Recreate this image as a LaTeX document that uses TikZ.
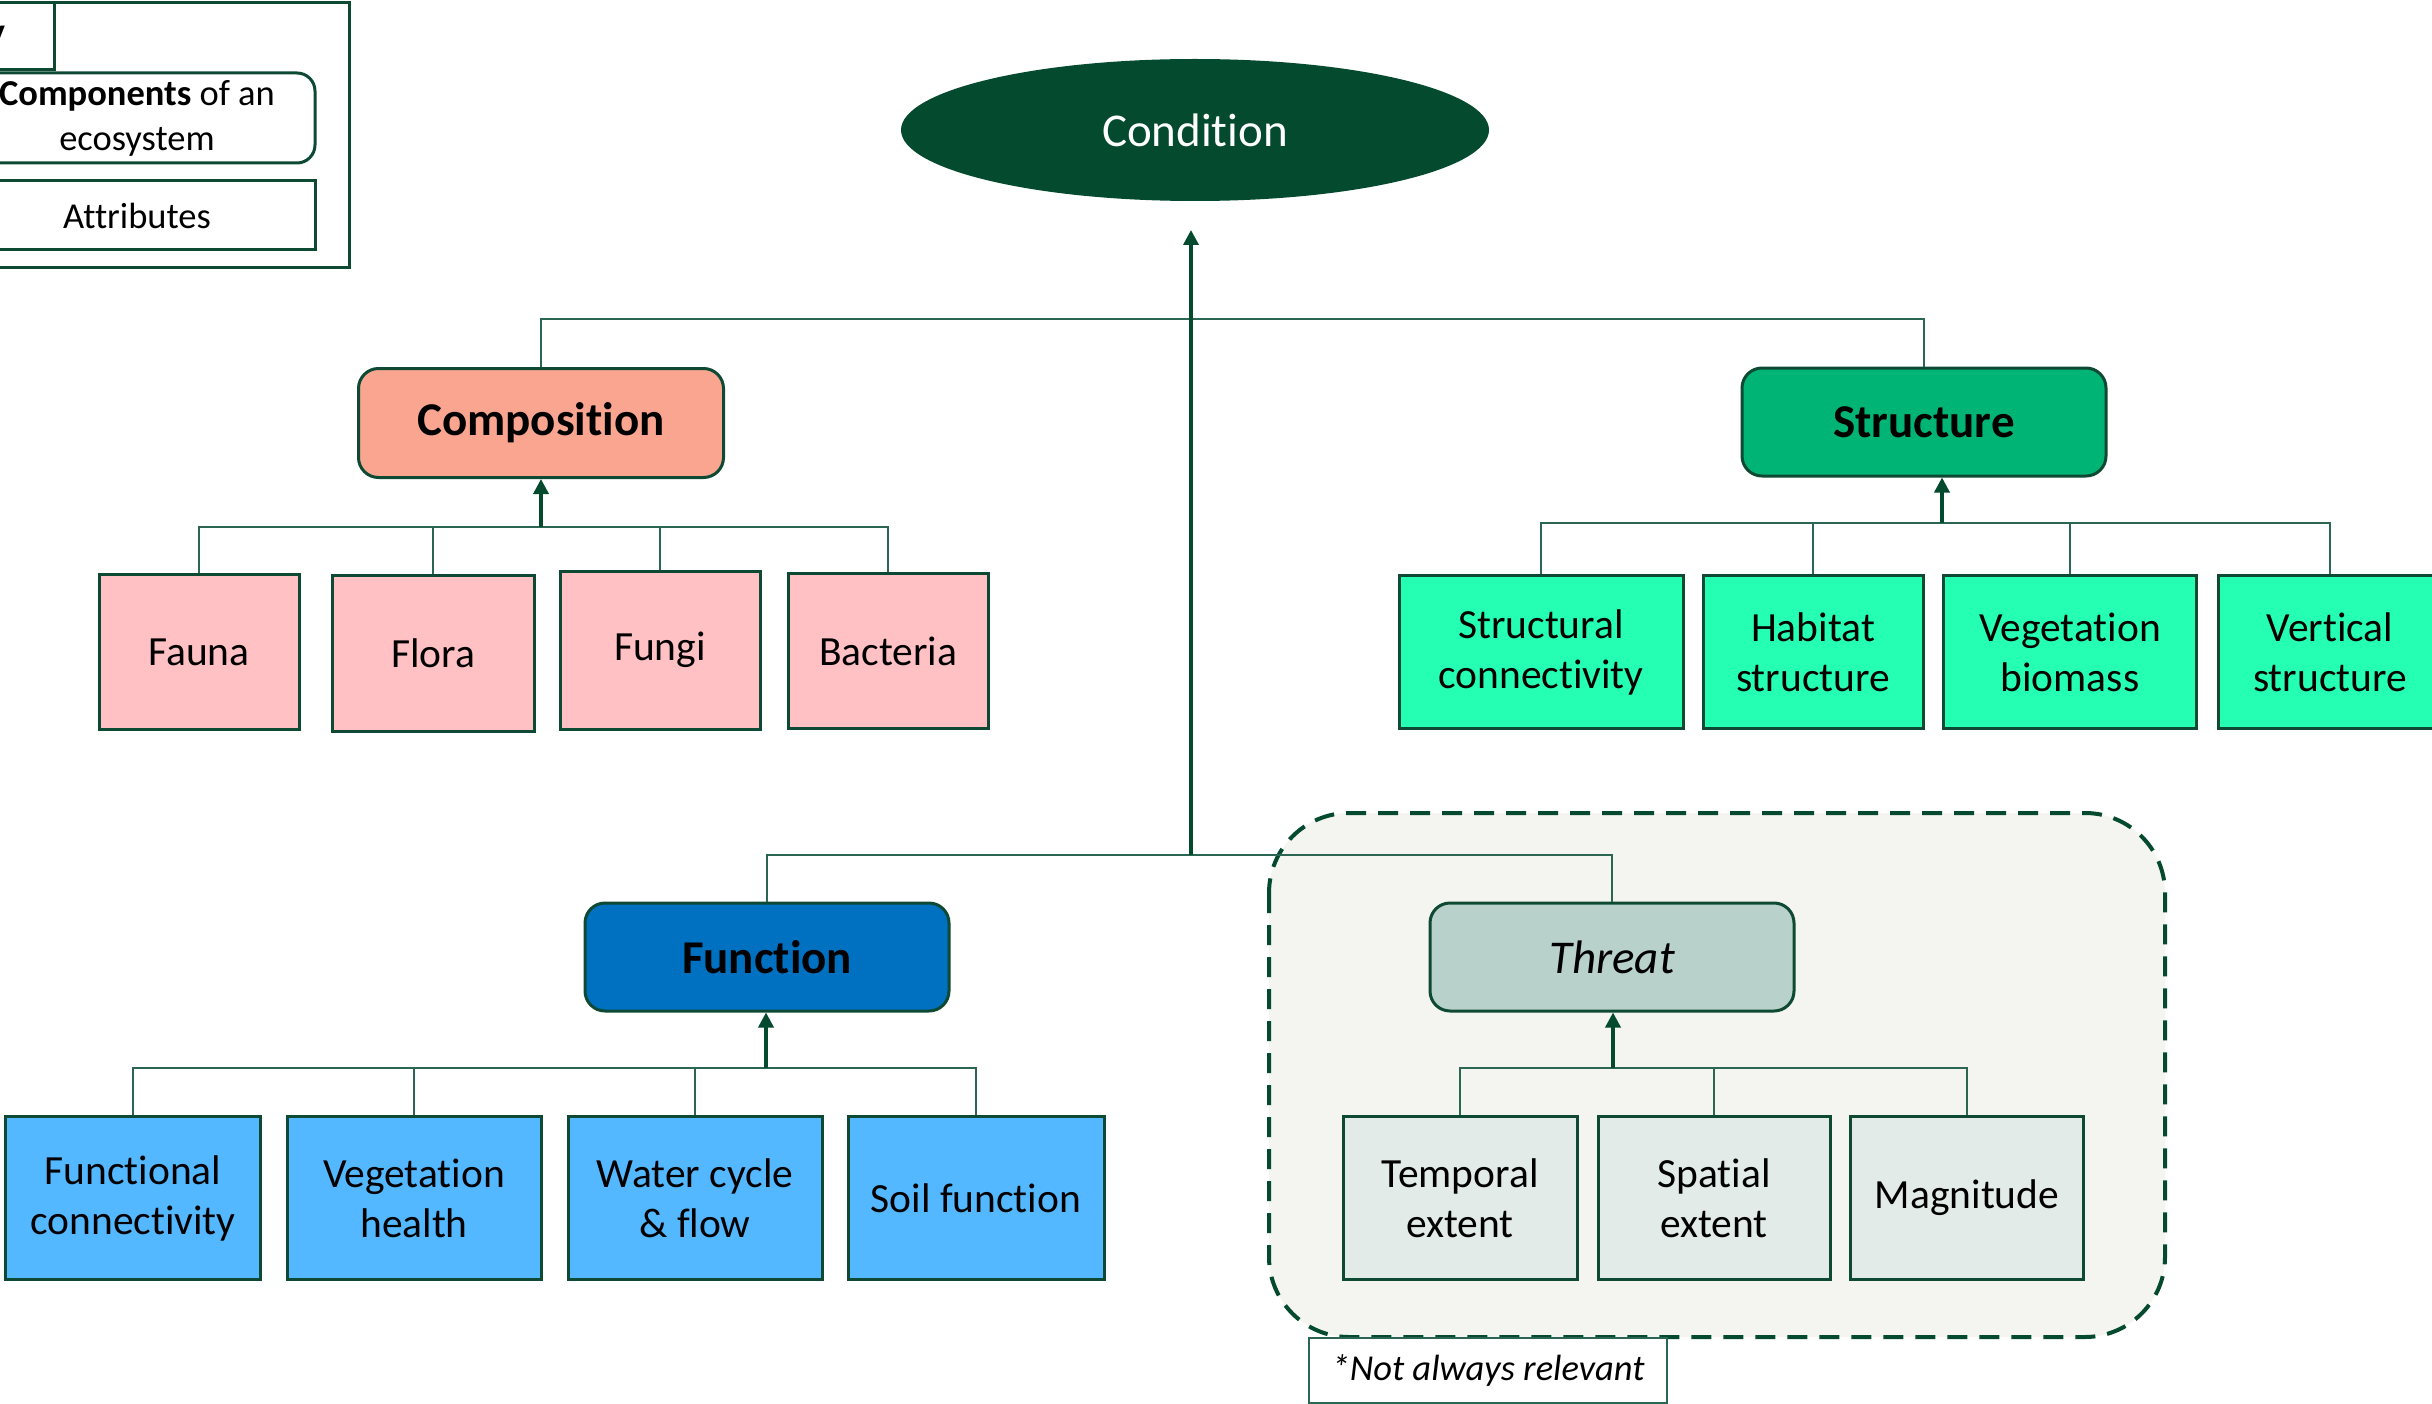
\documentclass[tikz,border=0pt]{standalone}
\usepackage{fontspec}
\setmainfont{Carlito}[Ligatures={NoCommon}]
\usetikzlibrary{arrows.meta,shapes.geometric}
\definecolor{dg}{HTML}{034A2E}
\definecolor{bd}{HTML}{0E4A33}
\definecolor{cg}{HTML}{2A6651}
\definecolor{salmon}{HTML}{F9A590}
\definecolor{pinkf}{HTML}{FFC1C3}
\definecolor{strg}{HTML}{00B476}
\definecolor{aqua}{HTML}{25FFB3}
\definecolor{fblue}{HTML}{0070C0}
\definecolor{lblue}{HTML}{53B8FF}
\definecolor{thr}{HTML}{B9D1CB}
\definecolor{thrl}{HTML}{E2EBE8}
\definecolor{regbg}{HTML}{F4F5F0}
\tikzset{
  leaf/.style={draw=bd, line width=3pt, align=center, inner sep=0pt,
    font=\fontsize{41.5}{50}\selectfont},
  cat/.style={draw=bd, line width=3pt, rounded corners=20pt, inner sep=0pt,
    minimum width=364pt, minimum height=108pt,
    font=\bfseries\fontsize{47}{56}\selectfont},
  conn/.style={draw=cg, line width=2pt},
  arr/.style={draw=dg, line width=3.5pt, -{Triangle[length=15pt,width=15pt]}},
  legbox/.style={draw=bd, line width=3pt, inner sep=0pt, align=center,
    font=\fontsize{36.5}{45}\selectfont}
}
\begin{document}
\begin{tikzpicture}[x=1pt,y=-1pt]
\useasboundingbox (0,0) rectangle (2432,1404);
\clip (0,0) rectangle (2432,1404);
\fill[white] (0,0) rectangle (2432,1404);

% legend
\node[legbox, minimum width=409pt, minimum height=265pt] (legend) at (144.5,135.5) {};
\node[legbox, minimum width=114pt, minimum height=67pt] (legtitle) at (-3,36.5) {};
\node[anchor=base east, inner sep=0pt, font=\bfseries\fontsize{38}{46}\selectfont] (keytxt) at (6,45) {Key};
\node[legbox, rounded corners=18pt, minimum width=356pt, minimum height=90pt] (legcomp) at (137,118) {\textbf{Components} of an\\ecosystem};
\node[legbox, minimum width=356pt, minimum height=69pt] (legattr) at (137,215.5) {Attributes};

% threat region
\draw[draw=dg, fill=regbg, line width=4pt, rounded corners=80pt, dash pattern=on 20pt off 12pt] (1269,813) rectangle (2165,1337);
\node[draw=cg, line width=2pt, fill=white, minimum width=358pt, minimum height=65pt, inner sep=0pt,
  font=\itshape\fontsize{36.5}{44}\selectfont] (note) at (1488,1370) {*Not always relevant};

% condition
\node[ellipse, fill=dg, minimum width=588pt, minimum height=142pt, inner sep=0pt, text=white,
  font=\fontsize{47}{56}\selectfont] (cond) at (1195,130) {Condition};

% categories
\node[cat, fill=salmon, minimum width=365pt, minimum height=109pt] (comp) at (541,423) {Composition};
\node[cat, fill=strg] (struct) at (1924,422) {Structure};
\node[cat, fill=fblue] (func) at (767,957) {Function};
\node[cat, fill=thr, font=\itshape\fontsize{47}{56}\selectfont] (threat) at (1612,957) {Threat};

% composition leaves
\node[leaf, fill=pinkf, minimum width=200pt, minimum height=155pt] (fauna) at (199,652) {Fauna};
\node[leaf, fill=pinkf, minimum width=202pt, minimum height=156pt] (flora) at (433,653) {Flora};
\node[leaf, fill=pinkf, minimum width=200pt, minimum height=158pt] (fungi) at (660,650) {Fungi};
\node[leaf, fill=pinkf, minimum width=200pt, minimum height=155pt] (bact) at (888,651) {Bacteria};

% structure leaves
\node[leaf, fill=aqua, minimum width=284pt, minimum height=153pt] (sc) at (1541,652) {Structural\\connectivity};
\node[leaf, fill=aqua, minimum width=220pt, minimum height=153pt] (hs) at (1813,652) {Habitat\\structure};
\node[leaf, fill=aqua, minimum width=253pt, minimum height=153pt] (vb) at (2070,652) {Vegetation\\biomass};
\node[leaf, fill=aqua, minimum width=224pt, minimum height=153pt] (vs) at (2330,652) {Vertical\\structure};

% function leaves
\node[leaf, fill=lblue, minimum width=255pt, minimum height=163pt] (fc) at (133,1198) {Functional\\connectivity};
\node[leaf, fill=lblue, minimum width=254pt, minimum height=163pt] (vh) at (414,1198) {Vegetation\\health};
\node[leaf, fill=lblue, minimum width=254pt, minimum height=163pt] (wc) at (695,1198) {Water cycle\\\& flow};
\node[leaf, fill=lblue, minimum width=256pt, minimum height=163pt] (sf) at (976,1198) {Soil function};

% threat leaves
\node[leaf, fill=thrl, minimum width=234pt, minimum height=163pt] (te) at (1460,1198) {Temporal\\extent};
\node[leaf, fill=thrl, minimum width=232pt, minimum height=163pt] (se) at (1714,1198) {Spatial\\extent};
\node[leaf, fill=thrl, minimum width=233pt, minimum height=163pt] (mg) at (1967,1198) {Magnitude};

% junction coordinates
\coordinate (tipC) at (1191,230);
\coordinate (trunkB) at (1191,855);
\coordinate (compJ) at (541,527);
\coordinate (structJ) at (1942,523);
\coordinate (funcJ) at (766,1068);
\coordinate (thrJ) at (1613,1068);

% top level connectors
\draw[conn] (comp.north) -- ++(0,-48) -| (struct.north);
\draw[conn] (func.north) |- (trunkB) -| (threat.north);
\draw[arr] (trunkB) -- (tipC);

% composition
\draw[conn] (fauna.north) |- (compJ) -| (bact.north);
\draw[conn] (flora.north) -- (flora.north |- compJ);
\draw[conn] (fungi.north) -- (fungi.north |- compJ);
\draw[arr] (compJ) -- (comp.south);

% structure
\draw[conn] (sc.north) |- (structJ) -| (vs.north);
\draw[conn] (hs.north) -- (hs.north |- structJ);
\draw[conn] (vb.north) -- (vb.north |- structJ);
\draw[arr] (structJ) -- (structJ |- struct.south);

% function
\draw[conn] (fc.north) |- (funcJ) -| (sf.north);
\draw[conn] (vh.north) -- (vh.north |- funcJ);
\draw[conn] (wc.north) -- (wc.north |- funcJ);
\draw[arr] (funcJ) -- (funcJ |- func.south);

% threat
\draw[conn] (te.north) |- (thrJ) -| (mg.north);
\draw[conn] (se.north) -- (se.north |- thrJ);
\draw[arr] (thrJ) -- (thrJ |- threat.south);
\end{tikzpicture}
\end{document}
